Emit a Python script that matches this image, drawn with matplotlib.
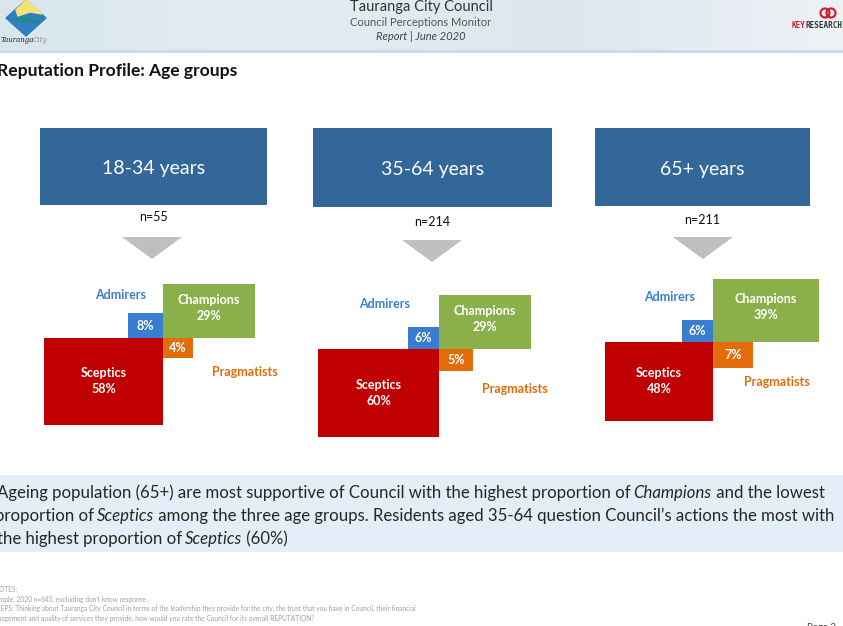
import numpy as np
import matplotlib.pyplot as plt
from matplotlib.patches import Rectangle, Polygon, Circle

# ------------------------------
# Data
# ------------------------------
groups = ['18-34 years', '35-64 years', '65+ years']
n_sizes = [55, 214, 211]
champions = [29, 29, 39]
admirers = [8, 6, 6]
pragmatists = [4, 5, 7]
sceptics = [58, 60, 48]

# ------------------------------
# Layout (pixel space)
# ------------------------------
W, H = 843, 626
head_boxes = [(40, 267, 128, 205), (313, 552, 128, 207), (595, 810, 128, 206)]
n_pos = [(153, 217), (432, 222), (702, 220)]
chevrons = [(152, 237), (432, 240), (703, 237)]
anchors = [(163, 338), (439, 349), (713, 342)]
adm_lbl = [(121, 295), (385, 304), (670, 297)]
prag_lbl = [(245, 372), (515, 389), (777, 382)]
# box width / height per sqrt(percent), per segment
scale = {
    'sceptics': (15.6, 11.4),
    'champions': (17.0, 10.1),
    'admirers': (12.5, 8.8),
    'pragmatists': (15.0, 10.0),
}

C_HEAD = '#336699'
C_CHAMP = '#8BAF4A'
C_ADM = '#3A7DD0'
C_PRAG = '#E36C0A'
C_SCEP = '#C00000'
FONT = 'Lato'

fig = plt.figure(figsize=(W / 100, H / 100), dpi=100)
ax = fig.add_axes([0, 0, 1, 1])
ax.set_xlim(0, W)
ax.set_ylim(H, 0)
ax.axis('off')

# ------------------------------
# Header
# ------------------------------
grad = np.linspace(0, 1, 200)[None, :]
ax.imshow(grad, extent=(0, W, 50, 0), cmap=plt.matplotlib.colors.LinearSegmentedColormap.from_list(
    'hd', ['#D9E6EE', '#E4EDF3', '#DCE7EE', '#EEF2F5']), aspect='auto', zorder=0)
ax.add_patch(Rectangle((0, 50), W, 3, color='#CADCE8', lw=0, zorder=1))

# left logo
ax.add_patch(Polygon([(26, 0), (46, 18), (26, 36), (6, 18)], closed=True, color='#2F7FC1', zorder=2))
ax.add_patch(Polygon([(26, 0), (42, 14), (30, 12), (18, 16), (16, 10)], closed=True, color='#F2E27A', zorder=3))
ax.add_patch(Polygon([(12, 20), (24, 17), (36, 21), (40, 22), (24, 21)], closed=True, color='#1E8C86', zorder=3))
ax.text(1, 40, 'Tauranga', fontsize=5, style='italic', family='DejaVu Serif', va='center', color='#222222')
ax.text(33, 40, 'City', fontsize=5, style='italic', family='DejaVu Serif', va='center', color='#888888')

# right logo
ax.add_patch(Circle((825, 13), 4.5, fill=False, ec='#D0202E', lw=1.6, zorder=3))
ax.add_patch(Circle((831, 13), 4.5, fill=False, ec='#D0202E', lw=1.6, zorder=3))
ax.text(792, 25, 'KEY', fontsize=5.5, color='#D0202E', va='center', family='DejaVu Sans Mono', weight='bold')
ax.text(805.5, 25, 'RESEARCH', fontsize=5.5, color='#333333', va='center', family='DejaVu Sans Mono', weight='bold')

ax.text(421, 7, 'Tauranga City Council', ha='center', va='center', fontsize=10.5, family=FONT, color='#333333')
ax.text(421, 22, 'Council Perceptions Monitor', ha='center', va='center', fontsize=8, family=FONT, color='#555555')
ax.text(421, 37, 'Report | June 2020', ha='center', va='center', fontsize=8, family=FONT, style='italic', color='#444444')

# title
ax.text(-3, 71, 'Reputation Profile: Age groups', ha='left', va='center', fontsize=12.6,
        family=FONT, weight='bold', color='#111111')


def seg_box(key, pct):
    kx, ky = scale[key]
    return kx * np.sqrt(pct), ky * np.sqrt(pct)


# ------------------------------
# Panels
# ------------------------------
for i in range(3):
    x0, x1, y0, y1 = head_boxes[i]
    ax.add_patch(Rectangle((x0, y0), x1 - x0, y1 - y0, color=C_HEAD, lw=0))
    ax.text((x0 + x1) / 2, (y0 + y1) / 2 + 2, groups[i], ha='center', va='center',
            fontsize=14, family=FONT, color='white')
    ax.text(n_pos[i][0], n_pos[i][1], 'n=%d' % n_sizes[i], ha='center', va='center',
            fontsize=9, family=FONT, color='#111111')
    cx, cy = chevrons[i]
    ax.add_patch(Polygon([(cx - 30, cy), (cx + 30, cy), (cx, cy + 22)], closed=True,
                         color='#BFBFBF', lw=0))

    ax_, ay_ = anchors[i]
    # sceptics: lower-left
    w, h = seg_box('sceptics', sceptics[i])
    ax.add_patch(Rectangle((ax_ - w, ay_), w, h, color=C_SCEP, lw=0))
    ax.text(ax_ - w / 2, ay_ + h / 2, 'Sceptics\n%d%%' % sceptics[i], ha='center', va='center',
            fontsize=9, family=FONT, weight='bold', color='white', linespacing=1.4)
    # champions: upper-right
    w, h = seg_box('champions', champions[i])
    ax.add_patch(Rectangle((ax_, ay_ - h), w, h, color=C_CHAMP, lw=0))
    ax.text(ax_ + w / 2, ay_ - h / 2 - 3, 'Champions\n%d%%' % champions[i], ha='center', va='center',
            fontsize=9, family=FONT, weight='bold', color='white', linespacing=1.4)
    # admirers: upper-left
    w, h = seg_box('admirers', admirers[i])
    ax.add_patch(Rectangle((ax_ - w, ay_ - h), w, h, color=C_ADM, lw=0))
    ax.text(ax_ - w / 2, ay_ - h / 2, '%d%%' % admirers[i], ha='center', va='center',
            fontsize=9, family=FONT, weight='bold', color='white')
    # pragmatists: lower-right
    w, h = seg_box('pragmatists', pragmatists[i])
    ax.add_patch(Rectangle((ax_, ay_), w, h, color=C_PRAG, lw=0))
    ax.text(ax_ + w / 2, ay_ + h / 2, '%d%%' % pragmatists[i], ha='center', va='center',
            fontsize=9, family=FONT, weight='bold', color='white')

    ax.text(adm_lbl[i][0], adm_lbl[i][1], 'Admirers', ha='center', va='center',
            fontsize=9, family=FONT, weight='bold', color=C_ADM)
    ax.text(prag_lbl[i][0], prag_lbl[i][1], 'Pragmatists', ha='center', va='center',
            fontsize=9, family=FONT, weight='bold', color=C_PRAG)

# ------------------------------
# Commentary box
# ------------------------------
ax.add_patch(Rectangle((0, 475), W, 77, color='#E3EEF8', lw=0))
lines = [
    [('Ageing population (65+) are most supportive of Council with the highest proportion of ', 'normal'),
     ('Champions', 'italic'), (' and the lowest', 'normal')],
    [('proportion of ', 'normal'), ('Sceptics', 'italic'),
     (' among the three age groups. Residents aged 35-64 question Council\u2019s actions the most with', 'normal')],
    [('the highest proportion of ', 'normal'), ('Sceptics', 'italic'), (' (60%)', 'normal')],
]
FS = 12.1
line_x = [-3, -5, -3]
line_y = [493, 516, 539]
renderer = fig.canvas.get_renderer()


def text_width(s, style):
    t1 = ax.text(0, 0, s + '|', fontsize=FS, family=FONT, style=style)
    t2 = ax.text(0, 0, '|', fontsize=FS, family=FONT, style=style)
    w = t1.get_window_extent(renderer).width - t2.get_window_extent(renderer).width
    t1.remove()
    t2.remove()
    return w


for runs, x, y in zip(lines, line_x, line_y):
    for s, style in runs:
        if style == 'italic':
            x -= 1.5   # tighten the gap in front of italic words
        ax.text(x, y, s, ha='left', va='center', fontsize=FS, family=FONT, style=style, color='#262626')
        x += text_width(s, style)

# ------------------------------
# Notes
# ------------------------------
notes = [
    'NOTES:',
    'Sample: 2020 n=645, excluding don\u2019t know response .',
    'CREPS: Thinking about Tauranga City Council in terms of the leadership they provide for the city, the trust that you have in Council, their financial',
    'management and quality of services they provide, how would you rate the Council for its overall REPUTATION?',
]
notes_x = [-6, -8, -8, -11]
notes_y = [590, 599, 608, 618]
for s, x, y in zip(notes, notes_x, notes_y):
    ax.text(x, y, s, ha='left', va='center', fontsize=4.8, family=FONT, color='#A0A0A0')

ax.text(807, 627, 'Page 3', ha='left', va='center', fontsize=7, family=FONT, color='#404040')

fig.savefig('out.png', dpi=100)
